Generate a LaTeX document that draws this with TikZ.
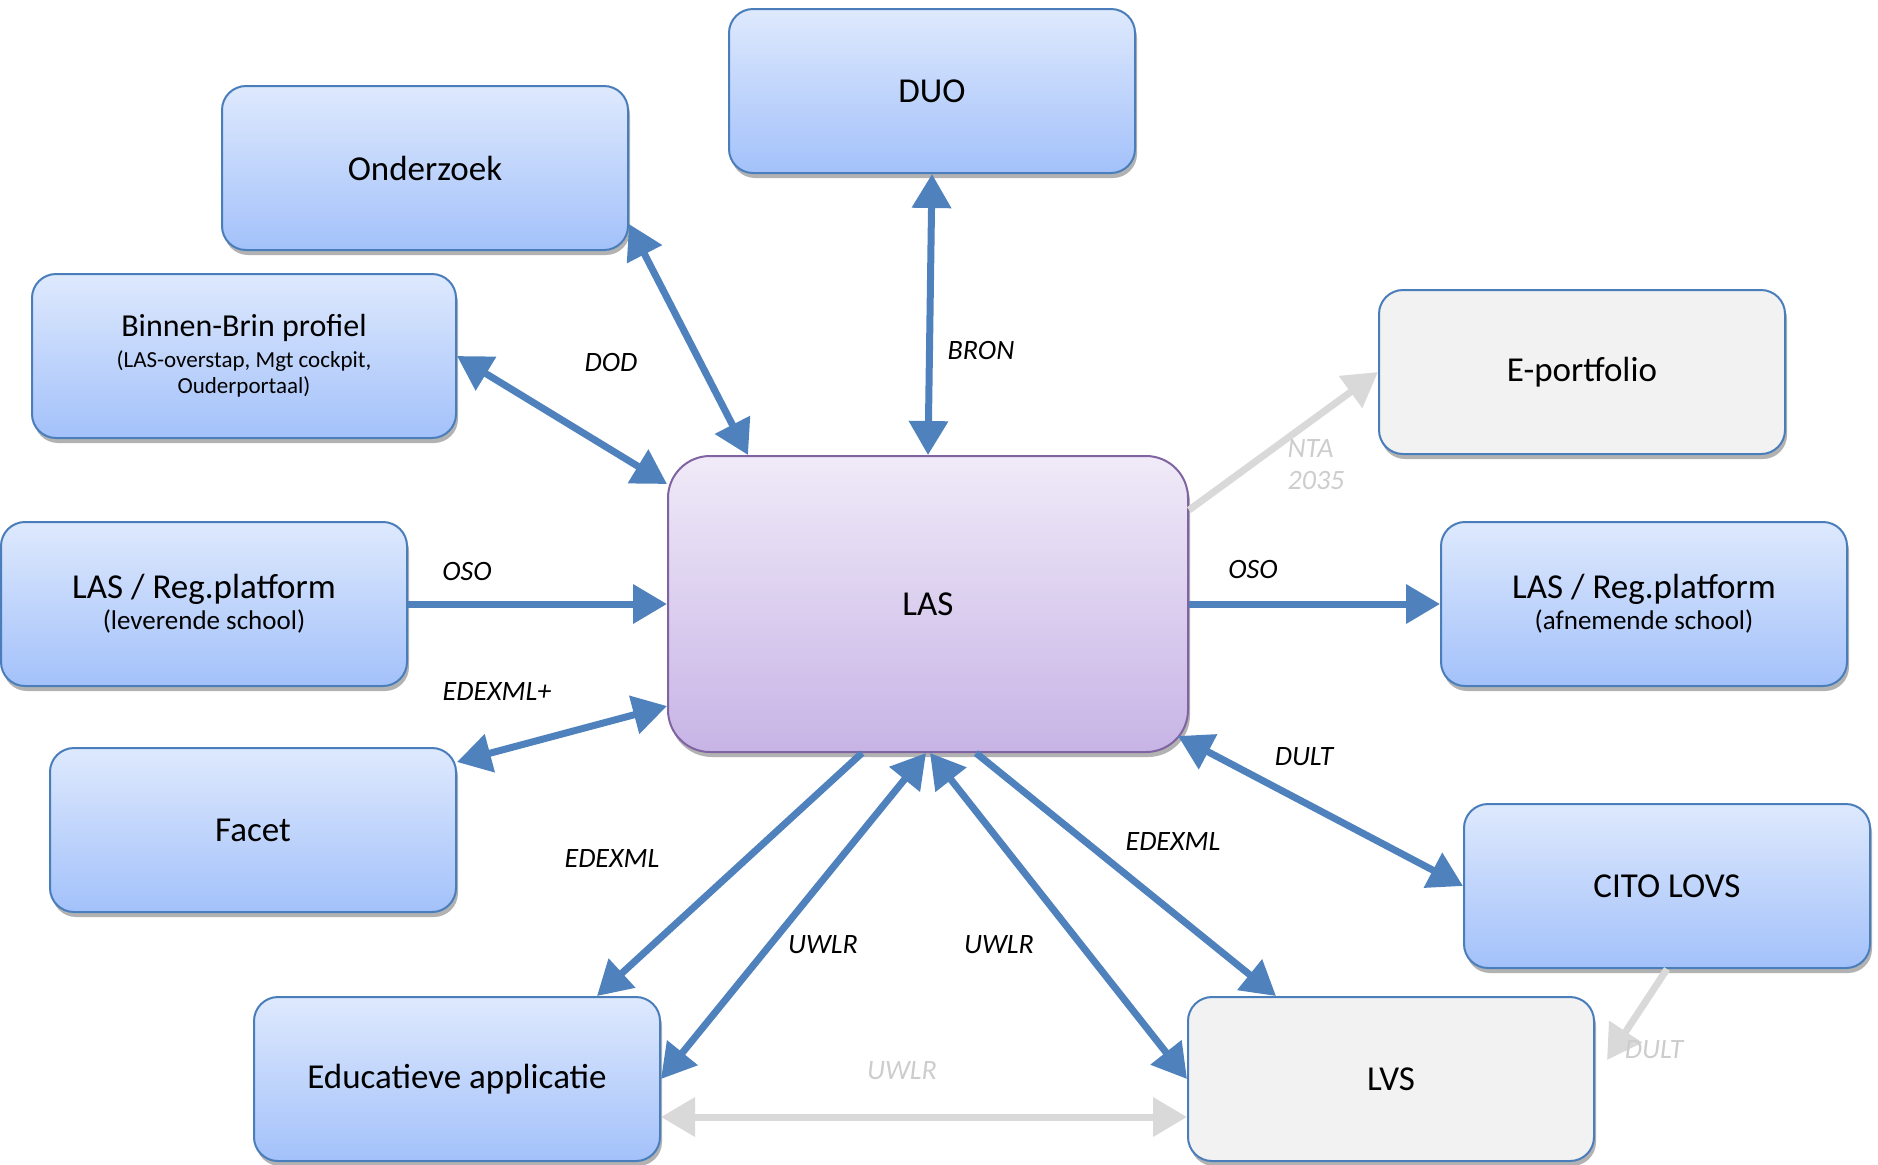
\documentclass[tikz,border=0pt]{standalone}
\usepackage{fontspec}
\setmainfont{Carlito}
\usetikzlibrary{arrows.meta,shadows}

\definecolor{boxline}{HTML}{4A7EBB}
\definecolor{boxtop}{HTML}{DEE9FD}
\definecolor{boxbot}{HTML}{A3C1FA}
\definecolor{lastop}{HTML}{F0EAF8}
\definecolor{lasbot}{HTML}{C7B4E6}
\definecolor{lasline}{HTML}{8064A2}
\definecolor{flow}{HTML}{4F81BD}
\definecolor{faint}{HTML}{D9D9D9}
\definecolor{faintlbl}{HTML}{CDCDCD}
\definecolor{greyfill}{HTML}{F2F2F2}

\newcommand{\subtxt}[1]{{\fontsize{13.5}{15}\selectfont #1}}

\begin{document}
\begin{tikzpicture}[x=0.5pt, y=-0.5pt, >={Triangle[length=17pt,width=19pt]},
		sys/.style={draw=boxline, line width=1pt, rounded corners=12pt, minimum width=203pt, minimum height=82pt,
			top color=boxtop, bottom color=boxbot, align=center, font=\fontsize{17.5}{21}\selectfont,
			drop shadow={shadow xshift=1pt, shadow yshift=-2.5pt, opacity=.3, fill=black}},
		ext/.style={sys, top color=greyfill, bottom color=greyfill},
		core/.style={sys, draw=lasline, rounded corners=21pt, minimum width=260pt, minimum height=148pt,
			top color=lastop, bottom color=lasbot},
		link/.style={draw=flow, line width=3.5pt},
		dim/.style={draw=faint, line width=3.5pt},
		lbl/.style={font=\fontsize{14}{16}\selectfont\itshape},
		dimlbl/.style={lbl, text=faintlbl}]
	\useasboundingbox (0,0) rectangle (1878,1164);

	% systems
	\node[core] (las) at (928,604) {LAS};
	\node[sys] (duo) at (932,91) {DUO};
	\node[sys] (onderzoek) at (425,168) {Onderzoek};
	\node[sys, minimum width=212pt, font=\fontsize{11.5}{13}\selectfont] (binnen) at (244,356)
		{{\fontsize{16}{19}\selectfont Binnen-Brin profiel}\\[2.5pt](LAS-overstap, Mgt cockpit,\\Ouderportaal)};
	\node[ext] (eport) at (1582,372) {E-portfolio};
	\node[sys] (lasl) at (204,604) {LAS / Reg.platform\\[-5.5pt]\subtxt{(leverende school)}};
	\node[sys] (lasr) at (1644,604) {LAS / Reg.platform\\[-5.5pt]\subtxt{(afnemende school)}};
	\node[sys] (facet) at (253,830) {Facet};
	\node[sys] (cito) at (1667,886) {CITO LOVS};
	\node[sys] (edu) at (457,1079) {Educatieve applicatie};
	\node[ext] (lvs) at (1391,1079) {LVS};

	% koppelingen
	\draw[link, <->] (duo.south) -- (las.north);
	\draw[link, <->] ([yshift=-28pt]onderzoek.east) -- ([xshift=-90pt]las.north);
	\draw[link, <->] (binnen.east) -- ([yshift=60pt]las.west);
	\draw[link, ->] (lasl.east) -- (las.west);
	\draw[link, <->] ([yshift=34pt]facet.east) -- ([yshift=-51pt]las.west);
	\draw[link, ->] (las.east) -- (lasr.west);
	\draw[dim, ->] ([yshift=47pt]las.east) -- (eport.west);
	\draw[link, <->] ([xshift=-5.5pt,yshift=8.5pt]las.south east) -- (cito.west);
	\draw[link, ->] ([xshift=-33pt]las.south) -- ([xshift=70pt]edu.north);
	\draw[link, <->] (edu.east) -- ([xshift=-1pt]las.south);
	\draw[link, <->] ([xshift=1pt]las.south) -- (lvs.west);
	\draw[link, ->] ([xshift=24pt]las.south) -- ([xshift=-57.5pt]lvs.north);
	\draw[dim, ->] (cito.south) -- ([xshift=6pt,yshift=-32pt]lvs.north east);
	\draw[dim, <->] ([yshift=-19pt]edu.east) -- ([yshift=-19pt]lvs.west);

	% labels
	\node[lbl] (bron) at (981,350) {BRON};
	\node[lbl] (dod) at (611,362) {DOD};
	\node[lbl] (osol) at (467,571) {OSO};
	\node[lbl] (edexmlp) at (497,691) {EDEXML+};
	\node[lbl] (osor) at (1253,569) {OSO};
	\node[dimlbl, align=left] (nta) at (1316,465) {NTA\\2035};
	\node[lbl] (dultr) at (1304,757) {DULT};
	\node[lbl] (edexmll) at (612,858) {EDEXML};
	\node[lbl] (edexmlr) at (1173,841) {EDEXML};
	\node[lbl] (uwlrl) at (823,945) {UWLR};
	\node[lbl] (uwlrr) at (999,945) {UWLR};
	\node[dimlbl] (dultg) at (1654,1050) {DULT};
	\node[dimlbl] (uwlrg) at (902,1071) {UWLR};
\end{tikzpicture}
\end{document}
